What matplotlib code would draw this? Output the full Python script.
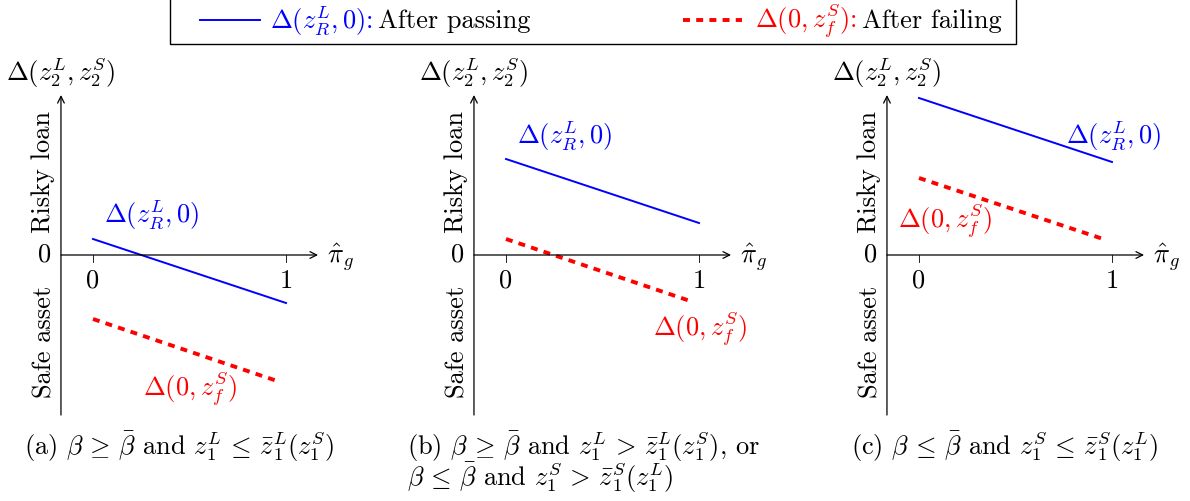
import matplotlib
matplotlib.use('Agg')
import matplotlib.pyplot as plt
from matplotlib.lines import Line2D
from matplotlib.patches import Rectangle

plt.rcParams['font.family'] = 'serif'
plt.rcParams['font.serif'] = ['cmr10']
plt.rcParams['mathtext.fontset'] = 'cm'
plt.rcParams['axes.unicode_minus'] = False
plt.rcParams['lines.scale_dashes'] = False

# values (y in arbitrary units, x is pi_hat_g)
pi_hat = [0, 1]
red_x = [0, 0.97]
blue_start = [0.16, 0.96, 1.57]
blue_end = [-0.48, 0.32, 0.93]
red_start = [-0.64, 0.16, 0.77]
red_end = [-1.27, -0.47, 0.15]

blue_lbl_pos = [(0.057, 0.33), (0.059, 1.12), (0.76, 1.12)]
red_lbl_pos = [(0.26, -1.417), (0.762, -0.817), (-0.109, 0.267)]

captions = [
    r'(a) $\beta\,\geq\,\bar{\beta}$ and $z_1^L\,\leq\,\bar{z}_1^L(z_1^S)$',
    r'(b) $\beta\,\geq\,\bar{\beta}$ and $z_1^L\,>\,\bar{z}_1^L(z_1^S)$, or',
    r'$\beta\,\leq\,\bar{\beta}$ and $z_1^S\,>\,\bar{z}_1^S(z_1^L)$',
    r'(c) $\beta\,\leq\,\bar{\beta}$ and $z_1^S\,\leq\,\bar{z}_1^S(z_1^L)$',
]

blue_lbl = r'$\Delta(z_R^L,0)$'
red_lbl = r'$\Delta(0,z_f^S)$'

W, H = 1190, 501
fs = 19
fig = plt.figure(figsize=(W / 100, H / 100), dpi=100)

unit = 193.0
for i in range(3):
    x0 = 93 + 413 * i
    ax = fig.add_axes([(x0 - 0.4 * unit) / W, (H - 435) / H, 1.8 * unit / W, 360 / H])
    ax.set_xlim(-0.4, 1.4)
    ax.set_ylim(-1.8, 1.8)
    ax.axis('off')

    yax = -0.166
    ax.annotate('', xy=(yax, 1.6), xytext=(yax, -1.6),
                arrowprops=dict(arrowstyle='->', lw=0.9, color='black',
                                shrinkA=0, shrinkB=0, mutation_scale=12))
    ax.annotate('', xy=(1.166, 0), xytext=(yax, 0),
                arrowprops=dict(arrowstyle='->', lw=0.9, color='black',
                                shrinkA=0, shrinkB=0, mutation_scale=12))
    for t in pi_hat:
        ax.plot([t, t], [0, -0.07], color='black', lw=0.6, clip_on=False)
        ax.text(t, -0.26, str(t), ha='center', va='center', fontsize=fs)

    ax.text(yax, 1.83, r'$\Delta(z_2^L,z_2^S)$', ha='center', va='center', fontsize=fs)
    ax.text(-0.25, 0, '0', ha='center', va='center', fontsize=fs)
    ax.text(-0.26, 0.83, 'Risky loan', rotation=90, ha='center', va='center', fontsize=fs)
    ax.text(-0.25, -0.87, 'Safe asset', rotation=90, ha='center', va='center', fontsize=fs)
    ax.text(1.21, -0.03, r'$\hat{\pi}_g$', ha='left', va='center', fontsize=fs)

    ax.plot(pi_hat, [blue_start[i], blue_end[i]], color='blue', lw=1.4, clip_on=False)
    ax.plot(red_x, [red_start[i], red_end[i]], color='red', lw=2.8,
            linestyle=(0, (5, 4.5)), clip_on=False)

    bx, by = blue_lbl_pos[i]
    ax.text(bx, by, blue_lbl, color='blue', ha='left', va='baseline', fontsize=fs)
    rx, ry = red_lbl_pos[i]
    ax.text(rx, ry, red_lbl, color='red', ha='left', va='baseline', fontsize=fs)

# captions
fig.text(179 / W, (H - 455) / H, captions[0], ha='center', va='baseline', fontsize=fs)
fig.text(407 / W, (H - 455) / H, captions[1], ha='left', va='baseline', fontsize=fs)
fig.text(407 / W, (H - 486) / H, captions[2], ha='left', va='baseline', fontsize=fs)
fig.text(1005 / W, (H - 455) / H, captions[3], ha='center', va='baseline', fontsize=fs)

# legend box drawn by hand (mixed colour labels)
fig.add_artist(Rectangle((169.5 / W, (H - 44) / H), (1016 - 169.5) / W, 50 / H,
                         transform=fig.transFigure, fill=False, lw=1, ec='black'))
ly = (H - 20) / H
fig.add_artist(Line2D([200 / W, 260 / W], [ly, ly], color='blue', lw=1.4,
                      transform=fig.transFigure))
fig.add_artist(Line2D([683 / W, 742 / W], [ly, ly], color='red', lw=2.8,
                      linestyle=(0, (5, 4.5)), transform=fig.transFigure))
tb = (H - 28) / H
fig.text(270 / W, tb, blue_lbl + ':', color='blue', ha='left', va='baseline', fontsize=fs)
fig.text(378 / W, tb, 'After passing', ha='left', va='baseline', fontsize=fs)
fig.text(755 / W, tb, red_lbl + ':', color='red', ha='left', va='baseline', fontsize=fs)
fig.text(862 / W, tb, 'After failing', ha='left', va='baseline', fontsize=fs)

fig.savefig('out.png', dpi=100)
